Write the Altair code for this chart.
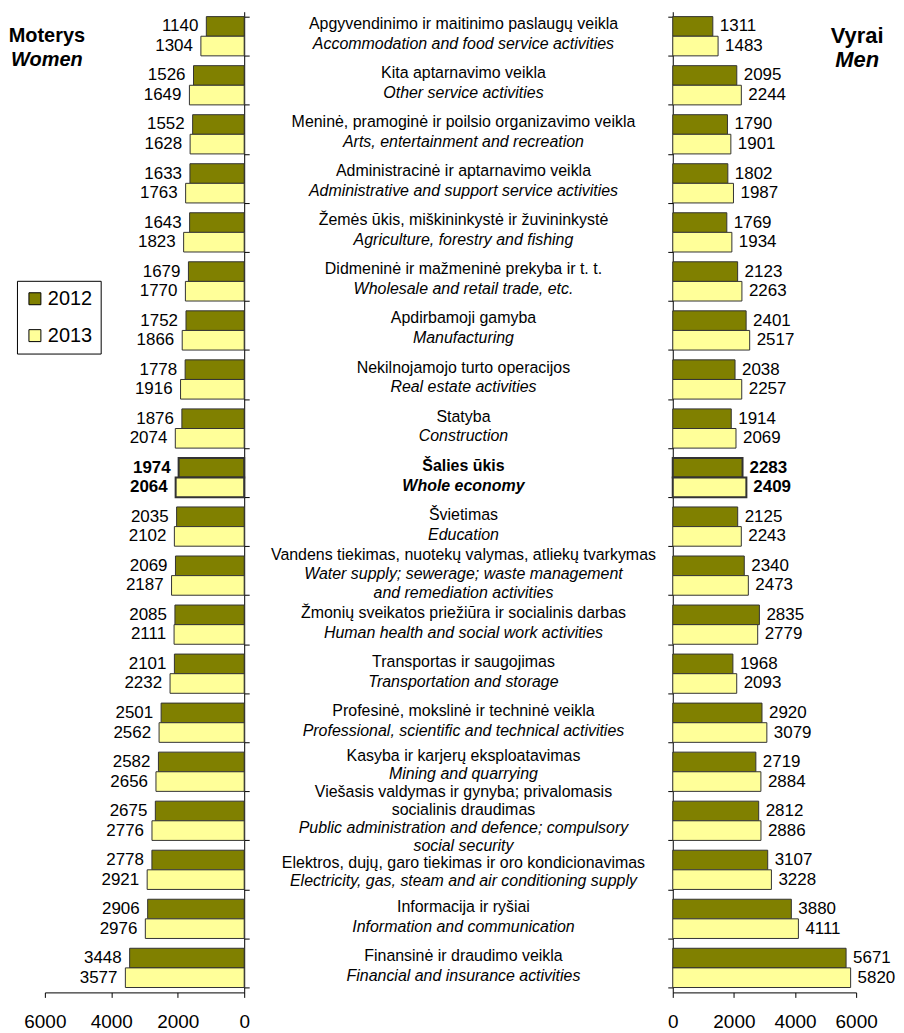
import altair as alt
import pandas as pd

FONT = "Liberation Sans"

labels_lt = [
    "Apgyvendinimo ir maitinimo paslaugų veikla",
    "Kita aptarnavimo veikla",
    "Meninė, pramoginė ir poilsio organizavimo veikla",
    "Administracinė ir aptarnavimo veikla",
    "Žemės ūkis, miškininkystė ir žuvininkystė",
    "Didmeninė ir mažmeninė prekyba ir t. t.",
    "Apdirbamoji gamyba",
    "Nekilnojamojo turto operacijos",
    "Statyba",
    "Šalies ūkis",
    "Švietimas",
    "Vandens tiekimas, nuotekų valymas, atliekų tvarkymas",
    "Žmonių sveikatos priežiūra ir socialinis darbas",
    "Transportas ir saugojimas",
    "Profesinė, mokslinė ir techninė veikla",
    "Kasyba ir karjerų eksploatavimas",
    "Viešasis valdymas ir gynyba; privalomasis\nsocialinis draudimas",
    "Elektros, dujų, garo tiekimas ir oro kondicionavimas",
    "Informacija ir ryšiai",
    "Finansinė ir draudimo veikla",
]
labels_en = [
    "Accommodation and food service activities",
    "Other service activities",
    "Arts, entertainment and recreation",
    "Administrative and support service activities",
    "Agriculture, forestry and fishing",
    "Wholesale and retail trade, etc.",
    "Manufacturing",
    "Real estate activities",
    "Construction",
    "Whole economy",
    "Education",
    "Water supply; sewerage; waste management\nand remediation activities",
    "Human health and social work activities",
    "Transportation and storage",
    "Professional, scientific and technical activities",
    "Mining and quarrying",
    "Public administration and defence; compulsory\nsocial security",
    "Electricity, gas, steam and air conditioning supply",
    "Information and communication",
    "Financial and insurance activities",
]
women_2012 = [1140, 1526, 1552, 1633, 1643, 1679, 1752, 1778, 1876, 1974,
              2035, 2069, 2085, 2101, 2501, 2582, 2675, 2778, 2906, 3448]
women_2013 = [1304, 1649, 1628, 1763, 1823, 1770, 1866, 1916, 2074, 2064,
              2102, 2187, 2111, 2232, 2562, 2656, 2776, 2921, 2976, 3577]
men_2012 = [1311, 2095, 1790, 1802, 1769, 2123, 2401, 2038, 1914, 2283,
            2125, 2340, 2835, 1968, 2920, 2719, 2812, 3107, 3880, 5671]
men_2013 = [1483, 2244, 1901, 1987, 1934, 2263, 2517, 2257, 2069, 2409,
            2243, 2473, 2779, 2093, 3079, 2884, 2886, 3228, 4111, 5820]
years = ["2012", "2013"]
year_colors = ["#808000", "#FFFF99"]
axis_ticks = [0, 2000, 4000, 6000]
whole_label = "Whole economy"
left_title = ["Moterys", "Women"]
right_title = ["Vyrai", "Men"]

n = len(labels_en)
whole_idx = labels_en.index(whole_label)


def long_df(v12, v13):
    rows = []
    for i in range(n):
        rows.append(dict(id=i, year=years[0], value=v12[i], whole=(i == whole_idx)))
        rows.append(dict(id=i, year=years[1], value=v13[i], whole=(i == whole_idx)))
    return pd.DataFrame(rows)


df_w = long_df(women_2012, women_2013)
df_m = long_df(men_2012, men_2013)

H = 984
P_IN, P_OUT = 0.2, 0.1
half_band = 0.5 * (1 - P_IN) * H / n

# one row per text line of the centre column
blocks = []
for i in range(n):
    lines = [(t, False) for t in labels_lt[i].split("\n")] + \
            [(t, True) for t in labels_en[i].split("\n")]
    blocks.append(lines)
nlines = [len(b) for b in blocks]

line_rows = []
for i, lines in enumerate(blocks):
    k = len(lines)
    prev_big = i > 0 and nlines[i - 1] >= 4
    next_big = i < n - 1 and nlines[i + 1] >= 4
    if k >= 4 or prev_big or next_big:
        lh = 18
    elif k == 3:
        lh = 19
    else:
        lh = 20
    shift = -2 + (-5 if next_big else 0) + (4 if prev_big else 0)
    for j, (t, it) in enumerate(lines):
        line_rows.append(dict(id=i, t=t, italic=it, whole=(i == whole_idx),
                              off=(j - (k - 1) / 2) * lh + shift + half_band))
df_c = pd.DataFrame(line_rows)

yscale = alt.Scale(paddingInner=P_IN, paddingOuter=P_OUT)
color_scale = alt.Scale(domain=years, range=year_colors)


def panel(df, side, width, title, title_x, title_size):
    left = side == "left"
    x = alt.X("value:Q",
              scale=alt.Scale(domain=[0, 6000], reverse=left, nice=False),
              axis=alt.Axis(values=axis_ticks, title=None, grid=False, labelFontSize=19,
                            tickSize=5, labelPadding=15, domainColor="black",
                            tickColor="black", labelColor="black", format="d",
                            labelFont=FONT, labelOverlap=False, labelFlush=False))
    y = alt.Y("id:O", scale=yscale,
              axis=alt.Axis(orient="right" if left else "left", labels=False, title=None,
                            tickBand="extent", tickSize=5, domainColor="black",
                            tickColor="black", grid=False))
    yoff = alt.YOffset("year:N", sort=years)
    if left:
        legend = alt.Legend(title=None, orient="none", legendX=-28, legendY=270,
                            symbolType="square", symbolSize=144, symbolStrokeColor="black",
                            symbolStrokeWidth=1, symbolOpacity=1, labelFontSize=20,
                            labelFont=FONT, labelColor="black", rowPadding=17,
                            padding=8, strokeColor="black", fillColor="white",
                            labelOffset=3)
    else:
        legend = None
    base = alt.Chart(df)
    bars = base.mark_bar(stroke="#333333").encode(
        x=x, y=y, yOffset=yoff,
        color=alt.Color("year:N", scale=color_scale, legend=legend),
        strokeWidth=alt.condition("datum.whole", alt.value(2), alt.value(1)),
    )
    tkw = dict(font=FONT, fontSize=17, baseline="middle", color="black",
               align="right" if left else "left", dx=-8 if left else 7)
    txt = base.mark_text(**tkw).encode(
        x="value:Q", y="id:O", yOffset=yoff, text=alt.Text("value:Q", format="d")
    ).transform_filter("!datum.whole")
    txt_b = base.mark_text(fontWeight="bold", **tkw).encode(
        x="value:Q", y="id:O", yOffset=yoff, text=alt.Text("value:Q", format="d")
    ).transform_filter("datum.whole")
    t1 = alt.Chart(pd.DataFrame({"t": [title[0]]})).mark_text(
        font=FONT, fontSize=title_size, fontWeight="bold", align="center",
        baseline="middle", color="black"
    ).encode(x=alt.value(title_x), y=alt.value(24), text="t:N")
    t2 = alt.Chart(pd.DataFrame({"t": [title[1]]})).mark_text(
        font=FONT, fontSize=title_size, fontWeight="bold", fontStyle="italic",
        align="center", baseline="middle", color="black"
    ).encode(x=alt.value(title_x), y=alt.value(48), text="t:N")
    return alt.layer(bars, txt, txt_b, t1, t2).properties(width=width, height=H)


left = panel(df_w, "left", 200, left_title, 2, 20)
right = panel(df_m, "right", 184, right_title, 185, 22)

cbase = alt.Chart(df_c)
ckw = dict(font=FONT, fontSize=16, align="center", baseline="middle", color="black")
cy = alt.Y("id:O", scale=yscale, axis=None)
cx = alt.value(220)
coff = alt.YOffset("off:Q", scale=None)
styles = [
    ("!datum.whole && !datum.italic", {}),
    ("!datum.whole && datum.italic", {"fontStyle": "italic"}),
    ("datum.whole && !datum.italic", {"fontWeight": "bold"}),
    ("datum.whole && datum.italic", {"fontWeight": "bold", "fontStyle": "italic"}),
]
center_layers = [
    cbase.mark_text(**ckw, **extra).encode(x=cx, y=cy, yOffset=coff, text="t:N")
    .transform_filter(cond)
    for cond, extra in styles
]
center = alt.layer(*center_layers).properties(width=430, height=H)

chart = alt.hconcat(left, center, right, spacing=0, bounds="flush").resolve_legend(
    color="independent"
).properties(
    padding={"left": 0, "top": 2, "right": 0, "bottom": 0}
).configure(font=FONT).configure_view(strokeWidth=0)

chart.save("out.html", embed_options={"renderer": "svg", "actions": False})
